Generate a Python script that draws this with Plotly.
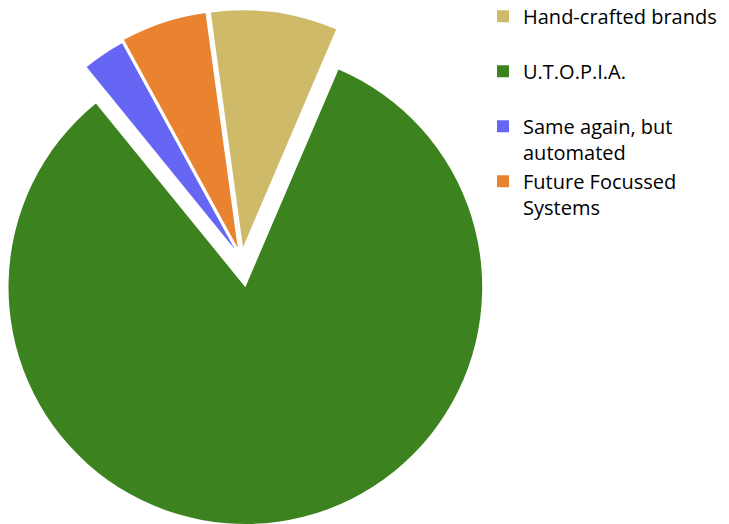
import math
import plotly.graph_objects as go

# ---- data ----
categories = ["Hand-crafted brands", "U.T.O.P.I.A.", "Same again, but automated", "Future Focussed Systems"]
legend_text = ["Hand-crafted brands<br>\u00a0", "U.T.O.P.I.A.<br>\u00a0",
               "Same again, but<br>automated", "Future Focussed<br>Systems"]
shares = [8.6, 82.7, 2.9, 5.8]

# ---- style ----
colors = ["#CFBA6A", "#3C821E", "#6666F5", "#E98330"]
pulls = [0.05, 0.12, 0.05, 0.05]          # explosion as fraction of radius
W, H = 729, 524
CX, CY, R = 241.4, 259.0, 237.0           # common pie centre / radius (px)
ROT = -7.8                                # start angle of first slice (deg, clockwise from 12 o'clock)
TRANSPARENT = "rgba(0,0,0,0)"

fig = go.Figure()

# legend-only pie (microscopic, invisible) carrying the real colours
fig.add_trace(go.Pie(
    labels=legend_text, values=shares, sort=False, direction="clockwise", rotation=ROT,
    marker=dict(colors=colors, line=dict(width=0)), textinfo="none", hoverinfo="skip",
    domain=dict(x=[0, 0.0004], y=[0, 0.0004]), showlegend=True,
))

# one exploded slice per trace, each drawn by plotly's pie geometry
total = sum(shares)
cum = 0.0
for i, v in enumerate(shares):
    mid = math.radians(ROT + 360.0 * (cum + v / 2.0) / total)
    cum += v
    tx = CX + pulls[i] * R * math.sin(mid)
    ty = CY - pulls[i] * R * math.cos(mid)
    r = min(R, tx, W - tx, ty, H - ty)
    cols = [colors[j] if j == i else TRANSPARENT for j in range(len(shares))]
    fig.add_trace(go.Pie(
        labels=categories, values=shares, sort=False, direction="clockwise", rotation=ROT,
        marker=dict(colors=cols, line=dict(width=0)), textinfo="none",
        hoverinfo="label+percent", showlegend=False,
        domain=dict(x=[(tx - r) / W, (tx + r) / W], y=[1 - (ty + r) / H, 1 - (ty - r) / H]),
    ))

fig.update_layout(
    width=W, height=H,
    margin=dict(l=0, r=0, t=0, b=0, pad=0, autoexpand=False),
    paper_bgcolor="white", plot_bgcolor="white",
    legend=dict(
        x=483 / W, y=1 + 3.3 / H, xanchor="left", yanchor="top",
        font=dict(family="Open Sans", size=20, color="#000000"),
        valign="top", bgcolor="rgba(0,0,0,0)", borderwidth=0, tracegroupgap=0,
    ),
)

fig.write_html("out.html")
